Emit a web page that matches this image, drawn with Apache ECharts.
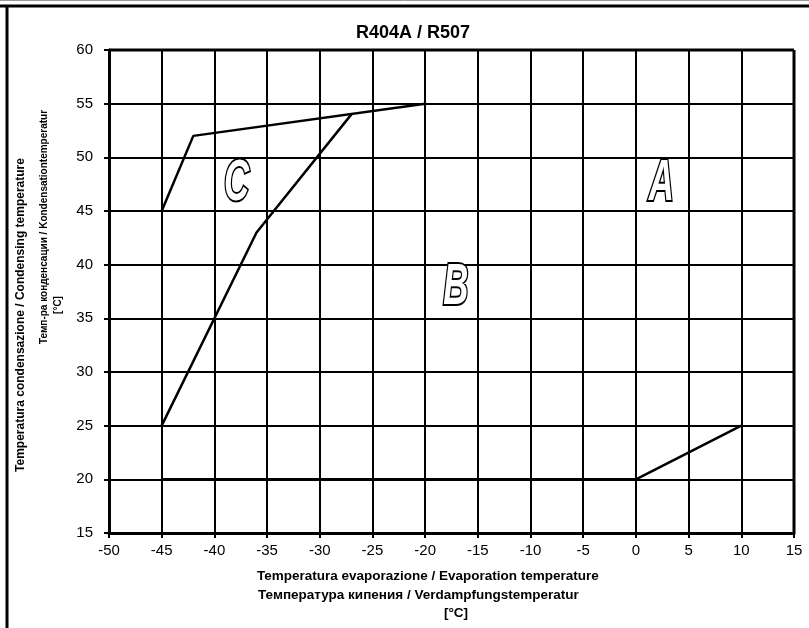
<!DOCTYPE html>
<html>
<head>
<meta charset="utf-8">
<script src="https://cdn.jsdelivr.net/npm/echarts@6/dist/echarts.min.js"></script>
<style>
  html, body { margin: 0; padding: 0; background: #fff; }
  #chart { width: 809px; height: 628px; }
</style>
</head>
<body>
<div id="chart"></div>
<script>
// envelope lines [evaporation, condensing]
const outerLine = [[-45, 45], [-42, 52], [-20, 55]];
const innerLine = [[-45, 25], [-36, 43], [-27, 54]];
const bottomLine = [[-45, 20], [0, 20], [10, 25]];
// zone letters
const zoneNames = ['A', 'B', 'C'];
const zonePos = [[2.4, 47.5], [-17.1, 37.8], [-37.9, 47.5]];

let myChart = echarts.init(document.getElementById('chart'));

let lineStyle = { color: '#000', width: 2.5 };
let axisFont = 'bold 13.5px "Liberation Sans"';

let options = {
  animation: false,
  title: {
    text: 'R404A / R507',
    left: 408,
    top: 19,
    textAlign: 'center',
    textStyle: { fontFamily: 'Liberation Sans', fontSize: 18, fontWeight: 'bold', color: '#000' }
  },
  grid: { left: 109, right: 15, top: 50, bottom: 95 },
  xAxis: {
    type: 'value',
    min: -50,
    max: 15,
    interval: 5,
    axisLine: { show: true, onZero: false, lineStyle: { color: '#000', width: 3 } },
    axisTick: { show: true, length: 5, lineStyle: { color: '#000', width: 2 } },
    axisLabel: { fontFamily: 'Liberation Sans', fontSize: 15, color: '#000', margin: 10 },
    splitLine: { show: true, lineStyle: { color: '#000', width: 2 } }
  },
  yAxis: {
    type: 'value',
    min: 15,
    max: 60,
    interval: 5,
    axisLine: { show: true, onZero: false, lineStyle: { color: '#000', width: 3 } },
    axisTick: { show: true, length: 5, lineStyle: { color: '#000', width: 2 } },
    axisLabel: { fontFamily: 'Liberation Sans', fontSize: 15, color: '#000', margin: 16 },
    splitLine: { show: true, lineStyle: { color: '#000', width: 2 } }
  },
  graphic: [
    // outer frame
    { type: 'line', shape: { x1: 0, y1: 0.5, x2: 809, y2: 0.5 }, style: { stroke: '#999', lineWidth: 1 } },
    { type: 'line', shape: { x1: 0, y1: 6, x2: 809, y2: 6 }, style: { stroke: '#000', lineWidth: 3 } },
    { type: 'line', shape: { x1: 7, y1: 5, x2: 7, y2: 628 }, style: { stroke: '#000', lineWidth: 3 } },
    // plot border top/right
    { type: 'line', shape: { x1: 109, y1: 50, x2: 794, y2: 50 }, style: { stroke: '#000', lineWidth: 3 }, z: 10 },
    { type: 'line', shape: { x1: 794, y1: 50, x2: 794, y2: 533 }, style: { stroke: '#000', lineWidth: 3 }, z: 10 },
    // x axis title
    {
      type: 'text', x: 257, y: 576,
      style: { text: 'Temperatura evaporazione / Evaporation temperature', fill: '#000', font: axisFont, textAlign: 'left', textVerticalAlign: 'middle' }
    },
    {
      type: 'text', x: 258, y: 595,
      style: { text: 'Температура кипения / Verdampfungstemperatur', fill: '#000', font: axisFont, textAlign: 'left', textVerticalAlign: 'middle' }
    },
    {
      type: 'text', x: 456, y: 613,
      style: { text: '[°C]', fill: '#000', font: axisFont, textAlign: 'center', textVerticalAlign: 'middle' }
    },
    // y axis title
    {
      type: 'text', x: 21, y: 315, rotation: Math.PI / 2,
      style: { text: 'Temperatura condensazione / Condensing temperature', fill: '#000', font: 'bold 12px "Liberation Sans"', textAlign: 'center', textVerticalAlign: 'middle' }
    },
    {
      type: 'text', x: 44, y: 227, rotation: Math.PI / 2,
      style: { text: 'Темп-ра конденсации / Kondensationtemperatur', fill: '#000', font: 'bold 10px "Liberation Sans"', textAlign: 'center', textVerticalAlign: 'middle' }
    },
    {
      type: 'text', x: 58, y: 305, rotation: Math.PI / 2,
      style: { text: '[°C]', fill: '#000', font: 'bold 10px "Liberation Sans"', textAlign: 'center', textVerticalAlign: 'middle' }
    }
  ],
  series: [
    { type: 'line', data: outerLine, symbol: 'none', lineStyle: lineStyle, z: 5 },
    { type: 'line', data: innerLine, symbol: 'none', lineStyle: lineStyle, z: 5 },
    { type: 'line', data: bottomLine, symbol: 'none', lineStyle: lineStyle, z: 5 },
    {
      type: 'custom',
      data: zonePos.map((p, i) => [p[0], p[1], i]),
      renderItem: function (params, api) {
        let pt = api.coord([api.value(0), api.value(1)]);
        return {
          type: 'text',
          x: pt[0],
          y: pt[1],
          scaleX: 0.6,
          style: {
            text: zoneNames[api.value(2)],
            font: 'italic bold 58px "Liberation Sans"',
            fill: '#fff',
            stroke: '#000',
            lineWidth: 4,
            textAlign: 'center',
            textVerticalAlign: 'middle'
          }
        };
      },
      z: 6
    }
  ]
};

myChart.setOption(options);
</script>
</body>
</html>
